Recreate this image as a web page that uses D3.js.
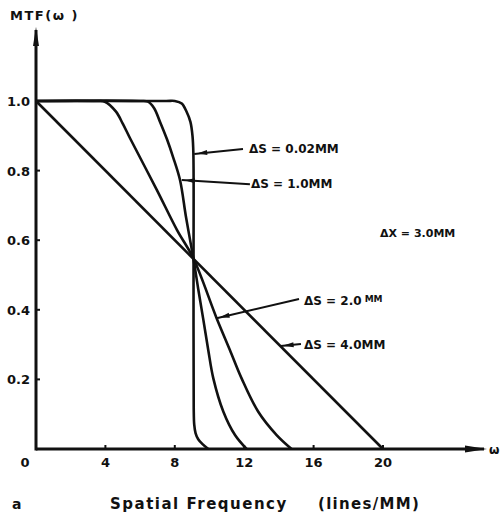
<!DOCTYPE html>
<html lang="en">
<head>
<meta charset="UTF-8" />
<title>MTF vs Spatial Frequency</title>
<script src="https://d3js.org/d3.v7.min.js"></script>
<style>
    body { margin: 0; background: #fff; }
    svg { display: block; }
    text { font-family: "DejaVu Sans", Arial, sans-serif; font-weight: bold; fill: #111; }
    .curve { fill: none; stroke: #111; stroke-width: 2.6px; stroke-linejoin: round; }
    .axis-line { stroke: #111; stroke-width: 3px; }
    .lead { stroke: #111; stroke-width: 2px; }
</style>
</head>
<body>
<div id="chart"></div>
<script>
    // tick labels
    const xTicks = [0, 4, 8, 12, 16, 20];
    const yTicks = [0.2, 0.4, 0.6, 0.8, 1.0];

    // curves (spatial frequency, MTF)
    const freq002 = [0, 7.5, 8.0, 8.4, 8.68, 8.9, 9.02, 9.07, 9.08, 9.09, 9.12, 9.2, 9.35, 9.6, 9.93];
    const mtf002  = [1, 1, 1, 0.993, 0.969, 0.94, 0.9, 0.85, 0.5, 0.12, 0.07, 0.045, 0.028, 0.014, 0];

    const freq10 = [0, 6.0, 6.45, 6.8, 7.15, 7.55, 7.9, 8.3, 8.65, 9.07, 9.35, 9.63, 9.93, 10.22, 10.8, 11.47, 12.14];
    const mtf10  = [1, 1, 0.998, 0.98, 0.94, 0.89, 0.839, 0.773, 0.665, 0.548, 0.46, 0.376, 0.284, 0.203, 0.107, 0.04, 0];

    const freq20 = [0, 3.5, 3.97, 4.6, 5.0, 5.42, 6.97, 8.13, 9.07, 10.41, 11.18, 11.85, 12.81, 13.87, 14.73];
    const mtf20  = [1, 1, 0.998, 0.97, 0.935, 0.893, 0.744, 0.629, 0.548, 0.376, 0.284, 0.203, 0.107, 0.04, 0];

    const freq40 = [0, 20];
    const mtf40  = [1, 0];

    const seriesLabels = ["ΔS = 0.02MM", "ΔS = 1.0MM", "ΔS = 2.0", "ΔS = 4.0MM"];

    const W = 502, H = 519;
    const svg = d3.select("#chart").append("svg")
        .attr("width", W)
        .attr("height", H);

    const x = d3.scaleLinear().domain([0, 20]).range([36, 383]);
    const y = d3.scaleLinear().domain([0, 1]).range([449, 101]);

    // axes with arrows
    svg.append("line").attr("class", "axis-line")
        .attr("x1", x(0)).attr("x2", 484).attr("y1", y(0)).attr("y2", y(0));
    svg.append("line").attr("class", "axis-line")
        .attr("x1", x(0)).attr("x2", x(0)).attr("y1", y(0) + 1.5).attr("y2", 30);
    svg.append("path")
        .attr("d", `M487,${y(0)} L465,${y(0) - 3.5} L465,${y(0) + 3.5} Z`)
        .attr("fill", "#111");
    svg.append("path")
        .attr("d", `M${x(0)},27 L${x(0) - 3},46 L${x(0) + 3},46 Z`)
        .attr("fill", "#111");

    // tick marks
    svg.selectAll(".xtick").data(xTicks.filter(d => d > 0)).enter().append("line")
        .attr("x1", d => x(d)).attr("x2", d => x(d))
        .attr("y1", y(0)).attr("y2", y(0) - 4)
        .attr("stroke", "#111").attr("stroke-width", 2);
    svg.selectAll(".ytick").data(yTicks).enter().append("line")
        .attr("x1", x(0)).attr("x2", x(0) + 4)
        .attr("y1", d => y(d)).attr("y2", d => y(d))
        .attr("stroke", "#111").attr("stroke-width", 2);

    // tick labels
    svg.selectAll(".xlab").data(xTicks).enter().append("text")
        .attr("x", d => d === 0 ? x(d) - 11 : x(d))
        .attr("y", 467)
        .attr("text-anchor", "middle")
        .attr("font-size", "13px")
        .text(d => d);
    svg.selectAll(".ylab").data(yTicks).enter().append("text")
        .attr("x", 30)
        .attr("y", d => y(d) + 5)
        .attr("text-anchor", "end")
        .attr("font-size", "13px")
        .text(d => d.toFixed(1));

    // axis titles
    svg.append("text").attr("x", 10).attr("y", 20).attr("font-size", "13px")
        .attr("letter-spacing", "1.5px").text("MTF(ω )");
    svg.append("text").attr("x", 489).attr("y", y(0) + 5).attr("font-size", "12px").text("ω");
    svg.append("text").attr("x", 12).attr("y", 509).attr("font-size", "14px").text("a");
    svg.append("text").attr("x", 110).attr("y", 509).attr("font-size", "15px")
        .attr("letter-spacing", "1.5px").text("Spatial Frequency");
    svg.append("text").attr("x", 318).attr("y", 509).attr("font-size", "15px")
        .attr("letter-spacing", "1.3px").text("(lines/MM)");

    // curves
    const line = d3.line()
        .x(d => x(d[0]))
        .y(d => y(d[1]))
        .curve(d3.curveCatmullRom.alpha(0.5));

    const curves = [
        d3.zip(freq002, mtf002),
        d3.zip(freq10, mtf10),
        d3.zip(freq20, mtf20),
        d3.zip(freq40, mtf40)
    ];
    svg.selectAll(".curve").data(curves).enter().append("path")
        .attr("class", "curve")
        .attr("d", line);

    // leader lines with arrowheads: tip on curve -> label end (data coords)
    const leads = [
        { tip: [9.12, 0.848], end: [11.93, 0.862], label: seriesLabels[0], dx: 6, dy: 4 },
        { tip: [8.4, 0.773], end: [12.33, 0.761], label: seriesLabels[1], dx: 1, dy: 4 },
        { tip: [10.41, 0.376], end: [15.16, 0.431], label: seriesLabels[2], dx: 5, dy: 6, sup: "MM" },
        { tip: [14.1, 0.296], end: [15.27, 0.302], label: seriesLabels[3], dx: 3, dy: 5 }
    ];

    leads.forEach(l => {
        const x1 = x(l.tip[0]), y1 = y(l.tip[1]);
        const x2 = x(l.end[0]), y2 = y(l.end[1]);
        svg.append("line").attr("class", "lead")
            .attr("x1", x1).attr("y1", y1).attr("x2", x2).attr("y2", y2);

        const len = Math.hypot(x2 - x1, y2 - y1);
        const ux = (x2 - x1) / len, uy = (y2 - y1) / len;
        const a = Math.min(3, len * 0.1), b = Math.min(13, len * 0.7);
        const px = -uy, py = ux;
        svg.append("path")
            .attr("d", `M${x1 + ux * a},${y1 + uy * a} L${x1 + ux * b + px * 2.5},${y1 + uy * b + py * 2.5} L${x1 + ux * b - px * 2.5},${y1 + uy * b - py * 2.5} Z`)
            .attr("fill", "#111");

        const t = svg.append("text")
            .attr("x", x2 + l.dx)
            .attr("y", y2 + l.dy)
            .attr("font-size", "12px")
            .text(l.label);
        if (l.sup) {
            t.append("tspan").attr("dx", 3).attr("dy", -3).attr("font-size", "9px").text(l.sup);
        }
    });

    svg.append("text")
        .attr("x", x(19.83))
        .attr("y", y(0.609))
        .attr("font-size", "11px")
        .text("ΔX = 3.0MM");
</script>
</body>
</html>
